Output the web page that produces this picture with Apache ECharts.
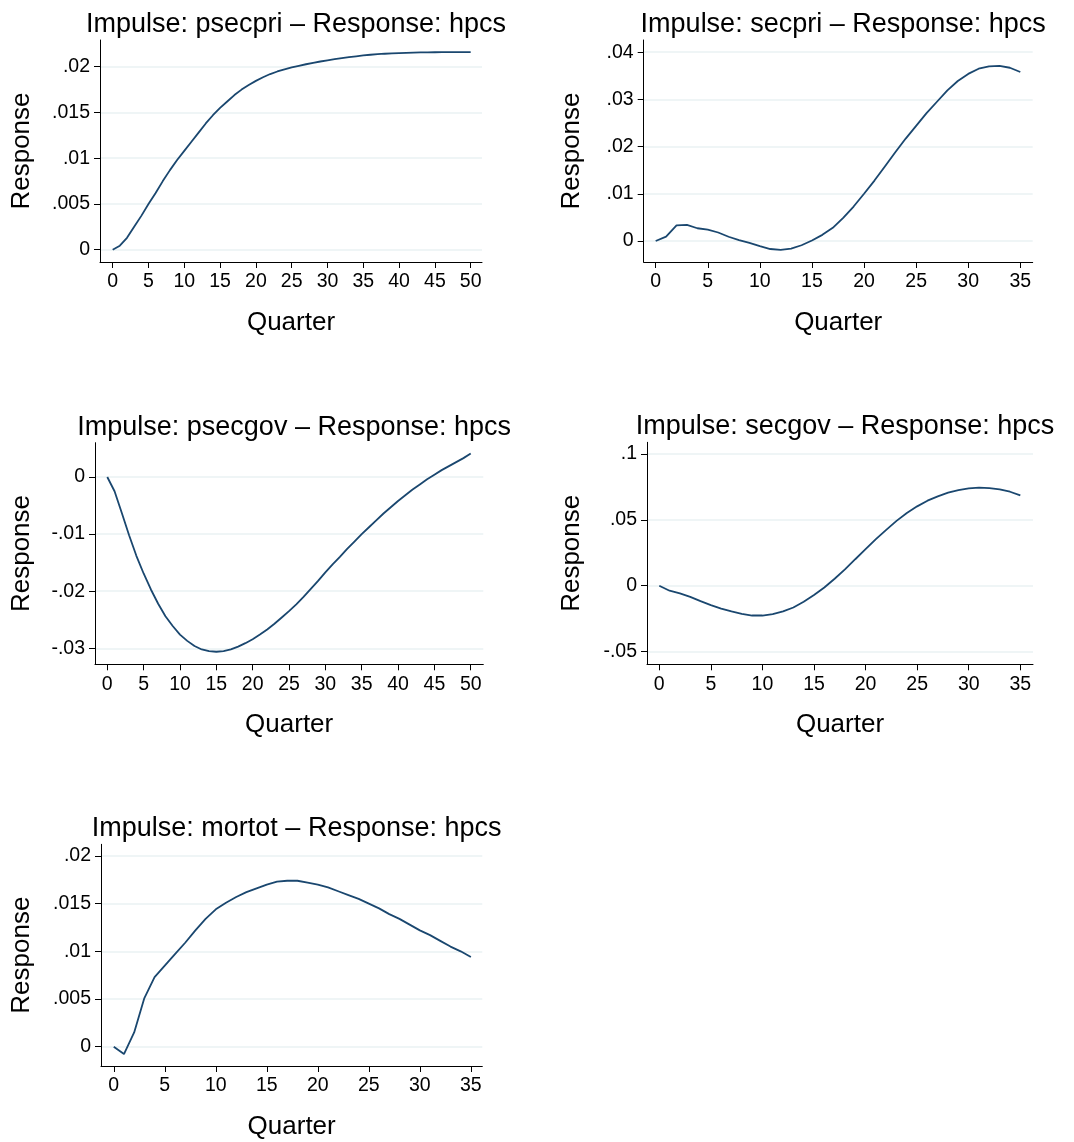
<!DOCTYPE html>
<html><head><meta charset="utf-8">
<script src="https://cdn.jsdelivr.net/npm/echarts@6/dist/echarts.min.js"></script>
<style>html,body{margin:0;padding:0;background:#fff}#c{width:1074px;height:1142px}</style>
</head><body><div id="c"></div>
<script>
// ---------- data ----------
const titles = [
  'Impulse: psecpri \u2013 Response: hpcs',
  'Impulse: secpri \u2013 Response: hpcs',
  'Impulse: psecgov \u2013 Response: hpcs',
  'Impulse: secgov \u2013 Response: hpcs',
  'Impulse: mortot \u2013 Response: hpcs'
];
const xTicks50 = [0,5,10,15,20,25,30,35,40,45,50];
const xTicks35 = [0,5,10,15,20,25,30,35];
const yTicks1 = [0,0.005,0.01,0.015,0.02];
const yTicks2 = [0,0.01,0.02,0.03,0.04];
const yTicks3 = [-0.03,-0.02,-0.01,0];
const yTicks4 = [-0.05,0,0.05,0.1];
const yTicks5 = [0,0.005,0.01,0.015,0.02];

const resp1 = [0,0.00044,0.0013,0.0025,0.0037,0.0050,0.0062,0.0075,0.0087,0.0098,0.0108,
  0.0118,0.0128,0.0138,0.0147,0.0155,0.0162,0.0169,0.0175,0.0180,0.01845,
  0.01885,0.0192,0.01948,0.01972,0.01993,0.0201,0.02027,0.02043,0.02057,0.0207,
  0.02082,0.02093,0.02104,0.02114,0.02123,0.02131,0.02137,0.02142,0.02146,0.02149,
  0.02152,0.02154,0.02156,0.02157,0.02158,0.02159,0.0216,0.0216,0.0216,0.0216];
const resp2 = [0,0.00092,0.0033,0.0034,0.0027,0.0024,0.0018,0.0009,0.0002,-0.0004,-0.0011,
  -0.0017,-0.0019,-0.0016,-0.0009,0.0001,0.0013,0.0028,0.0049,0.0073,0.0100,
  0.0128,0.0158,0.0188,0.0217,0.0244,0.0271,0.0295,0.0319,0.0339,0.0354,
  0.0365,0.0370,0.0371,0.0367,0.0358];
const resp3 = [0,-0.0025,-0.0063,-0.0102,-0.0138,-0.0169,-0.0197,-0.0222,-0.0244,-0.0261,-0.0276,
  -0.0287,-0.0296,-0.0302,-0.0305,-0.0306,-0.0305,-0.0302,-0.0297,-0.0291,-0.0284,
  -0.0276,-0.0267,-0.0257,-0.0246,-0.0235,-0.0223,-0.0210,-0.0196,-0.0182,-0.0167,
  -0.0153,-0.0140,-0.0126,-0.0113,-0.0100,-0.0088,-0.0076,-0.0064,-0.0053,-0.0042,
  -0.0032,-0.0022,-0.0013,-0.0004,0.0004,0.0012,0.0019,0.0026,0.0033,0.0041];
const resp4 = [0,-0.0038,-0.0058,-0.0084,-0.0117,-0.0147,-0.0173,-0.0195,-0.0213,-0.0226,-0.0226,
  -0.0216,-0.0195,-0.0165,-0.0122,-0.0071,-0.0013,0.0053,0.0124,0.0201,0.0277,
  0.0353,0.0424,0.0492,0.0551,0.0602,0.0645,0.0678,0.0706,0.0726,0.0739,
  0.0744,0.0741,0.0731,0.0713,0.0685];
const resp5 = [0,-0.00077,0.0015,0.0051,0.0073,0.0085,0.0097,0.0109,0.0122,0.0134,0.0144,
  0.0151,0.0157,0.0162,0.0166,0.0170,0.0173,0.0174,0.0174,0.0172,0.0170,
  0.0167,0.0163,0.0159,0.0155,0.0150,0.0145,0.0139,0.0134,0.0128,0.0122,
  0.0117,0.0111,0.0105,0.0100,0.0094];

// ---------- layout ----------
const FONT = '"Liberation Sans", Arial, Helvetica, sans-serif';
const panels = [
  {grid:{left:100,top:40,width:382,height:222}, xr:[-1.77,51.58], yr:[-0.00134,0.02292], xt:xTicks50, yt:yTicks1, data:resp1, ygap:65},
  {grid:{left:643.7,top:40,width:389,height:222}, xr:[-1.15,36.19], yr:[-0.00445,0.04258], xt:xTicks35, yt:yTicks2, data:resp2, ygap:59},
  {grid:{left:95,top:442.7,width:388.3,height:221.6}, xr:[-1.69,51.73], yr:[-0.0328,0.0060], xt:xTicks50, yt:yTicks3, data:resp3, ygap:60},
  {grid:{left:647,top:442.3,width:386,height:222}, xr:[-1.19,36.23], yr:[-0.0596,0.1088], xt:xTicks35, yt:yTicks4, data:resp4, ygap:62},
  {grid:{left:101,top:844.3,width:381.3,height:221.7}, xr:[-1.25,36.12], yr:[-0.00202,0.02122], xt:xTicks35, yt:yTicks5, data:resp5, ygap:66}
];
function fmtY(v){
  if (Math.abs(v) < 1e-12) return '0';
  let s = String(+v.toFixed(4));
  return s.replace(/^(-?)0\./, '$1.');
}
const option = {
  backgroundColor:'#fff',
  animation:false,
  title:[], grid:[], xAxis:[], yAxis:[], series:[]
};
panels.forEach((p,i)=>{
  option.grid.push(Object.assign({containLabel:false}, p.grid));
  option.title.push({
    text: titles[i],
    left: p.grid.left + p.grid.width/2,
    top: p.grid.top - 34,
    textAlign:'center',
    textStyle:{fontFamily:FONT,fontSize:27,fontWeight:'normal',color:'#000'}
  });
  option.xAxis.push({
    type:'value', gridIndex:i, min:p.xr[0], max:p.xr[1],
    name:'Quarter', nameLocation:'middle', nameGap:48,
    nameTextStyle:{fontFamily:FONT,fontSize:26,color:'#000'},
    axisLine:{show:true,onZero:false,lineStyle:{color:'#000',width:1}},
    axisTick:{show:true,length:6,customValues:p.xt,lineStyle:{color:'#000',width:1}},
    axisLabel:{customValues:p.xt,margin:10,fontFamily:FONT,fontSize:19.5,color:'#000'},
    splitLine:{show:false}
  });
  option.yAxis.push({
    type:'value', gridIndex:i, min:p.yr[0], max:p.yr[1],
    name:'Response', nameLocation:'middle', nameGap:p.ygap,
    nameTextStyle:{fontFamily:FONT,fontSize:26,color:'#000'},
    axisLine:{show:true,onZero:false,lineStyle:{color:'#000',width:1}},
    axisTick:{show:true,length:6,customValues:p.yt,lineStyle:{color:'#000',width:1}},
    axisLabel:{customValues:p.yt,margin:10,fontFamily:FONT,fontSize:19.5,color:'#000',formatter:fmtY},
    splitLine:{show:true,lineStyle:{color:'#eaf2f3',width:1.5}}
  });
  option.series.push({
    type:'line', xAxisIndex:i, yAxisIndex:i,
    data:p.data.map((v,q)=>[q,v]),
    showSymbol:false, symbol:'none', smooth:false,
    lineStyle:{color:'#1a476f',width:1.8}
  });
});
const chart = echarts.init(document.getElementById('c'), null, {renderer:'canvas'});
chart.setOption(option);
</script></body></html>
